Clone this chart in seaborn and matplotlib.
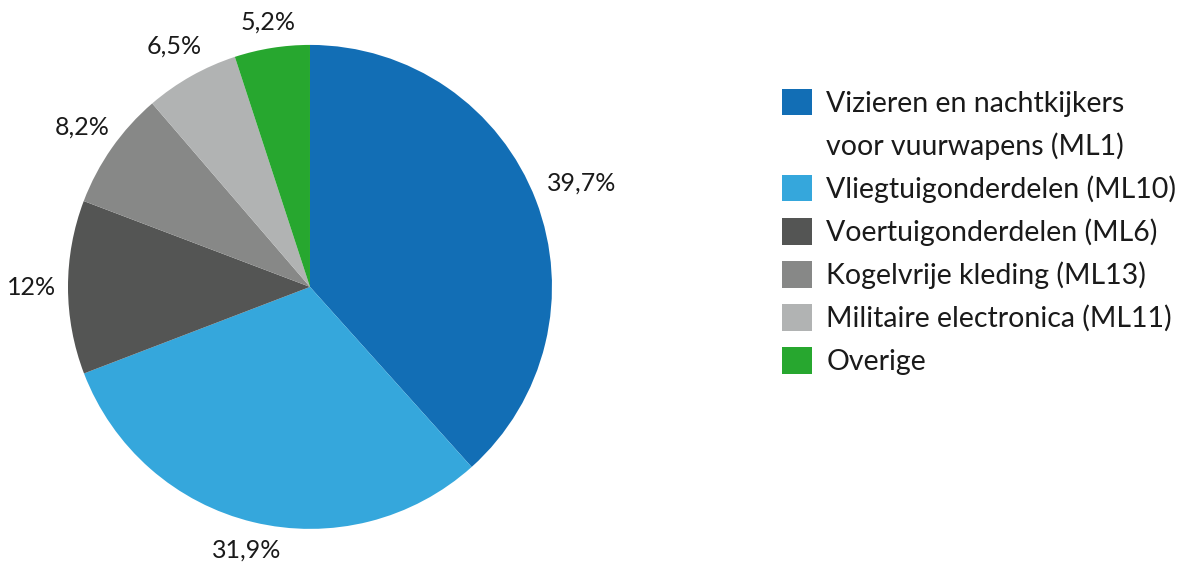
import matplotlib
matplotlib.use("Agg")
import numpy as np
import seaborn as sns
from matplotlib import pyplot as plt
from matplotlib.patches import Patch

# data (values do not sum to 100, pie normalizes)
categories = ["Vizieren en nachtkijkers\nvoor vuurwapens (ML1)",
              "Vliegtuigonderdelen (ML10)",
              "Voertuigonderdelen (ML6)",
              "Kogelvrije kleding (ML13)",
              "Militaire electronica (ML11)",
              "Overige"]
shares = [39.7, 31.9, 12.0, 8.2, 6.5, 5.2]
share_labels = ["39,7%", "31,9%", "12%", "8,2%", "6,5%", "5,2%"]
colors = ["#126eb5", "#35a7dc", "#545554", "#878887", "#b1b3b3", "#27a72f"]

# how far out each percentage sits (radius units)
label_dist = [1.2, 1.12, 1.15, 1.15, 1.14, 1.11]

sns.set_theme(style="white")
plt.rcParams["font.family"] = ["Lato", "DejaVu Sans"]
plt.rcParams["text.color"] = "#1a1a1a"

fig = plt.figure(figsize=(11.95, 5.67), dpi=100)
ax = fig.add_axes([0.0569, 0.067, 0.405, 0.854])

wedges, texts = ax.pie(shares, labels=share_labels, colors=colors,
                       startangle=90, counterclock=False,
                       labeldistance=1.12,
                       wedgeprops=dict(linewidth=0),
                       textprops=dict(fontsize=18))
for w, t, d in zip(wedges, texts, label_dist):
    mid = np.deg2rad((w.theta1 + w.theta2) / 2)
    t.set_position((d * np.cos(mid), d * np.sin(mid)))
    t.set_horizontalalignment("center")
ax.set_xlim(-1, 1)
ax.set_ylim(-1, 1)
ax.set_aspect("equal")

# legend: first label is split over two rows, marker only on the first one
handles = []
labels = []
for cat, col in zip(categories, colors):
    lines = cat.split("\n")
    handles.append(Patch(facecolor=col, edgecolor="none"))
    labels.append(lines[0])
    for extra in lines[1:]:
        handles.append(Patch(facecolor="none", edgecolor="none"))
        labels.append(extra)

fig.legend(handles, labels, loc="upper left", bbox_to_anchor=(0.645, 0.863),
           frameon=False, fontsize=20.5, handlelength=1.05, handleheight=1.05,
           handletextpad=0.5, labelspacing=0.53, borderaxespad=0)

fig.savefig("out.png", dpi=100)
